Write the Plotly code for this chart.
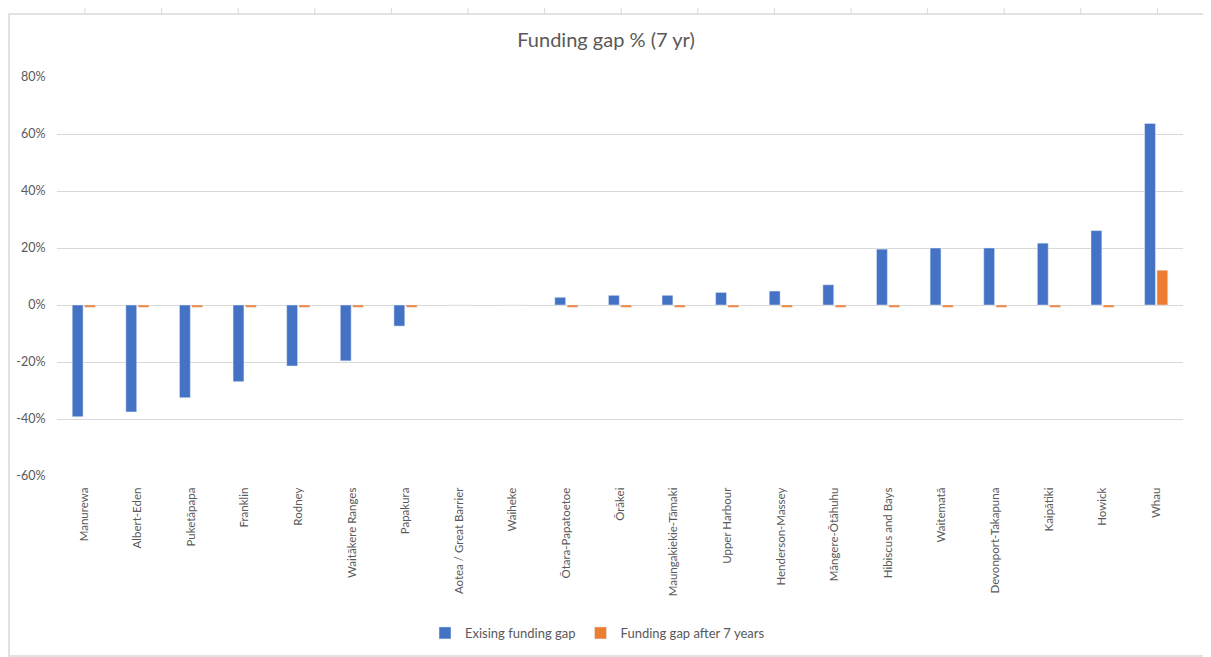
import plotly.graph_objects as go

categories = ["Manurewa", "Albert-Eden", "Puketāpapa", "Franklin", "Rodney",
              "Waitākere Ranges", "Papakura", "Aotea / Great Barrier", "Waiheke",
              "Ōtara-Papatoetoe", "Ōrākei", "Maungakiekie-Tāmaki", "Upper Harbour",
              "Henderson-Massey", "Māngere-Ōtāhuhu", "Hibiscus and Bays", "Waitematā",
              "Devonport-Takapuna", "Kaipātiki", "Howick", "Whau"]
existing_gap = [-39.2, -37.5, -32.5, -26.9, -21.4, -19.6, -7.4, 0, 0,
                2.7, 3.4, 3.4, 4.4, 4.9, 7.1, 19.6, 20.0, 20.0, 21.7, 26.1, 63.7]
gap_after_7 = [-0.8, -0.8, -0.8, -0.8, -0.8, -0.8, -0.8, 0, 0,
               -0.8, -0.8, -0.8, -0.8, -0.8, -0.8, -0.8, -0.8, -0.8, -0.8, -0.8, 12.2]
series_names = ["Exising funding gap", "Funding gap after 7 years"]
y_ticks = [-60, -40, -20, 0, 20, 40, 60, 80]
y_tick_labels = [f"{v}%" for v in y_ticks]

# page is offset by the default 8px body margin
OFF = 8
PW, PH = 1211, 657
FW, FH = PW - OFF, PH - OFF
L, R, T, B = 57, 1183, 77, 476          # plot area in page pixels
W, H = R - L, B - T
GRID = "#d9d9d9"
TXT = "#595959"
FONT = "Lato, Calibri, Carlito, sans-serif"


def px(x):
    return (x - L) / W


def py(y):
    return (B - y) / H


fig = go.Figure()
fig.add_trace(go.Bar(x=categories, y=existing_gap, name=series_names[0],
                     marker_color="#4472C4"))
fig.add_trace(go.Bar(x=categories, y=gap_after_7, name=series_names[1],
                     marker_color="#ED7D31"))

shapes = []
line = dict(color=GRID, width=1)
# chart frame
shapes.append(dict(type="rect", xref="paper", yref="paper", x0=px(9), x1=px(1204),
                   y0=py(656), y1=py(14), line=dict(color=GRID, width=1.5), layer="below"))
# spreadsheet column marks on top
for k in range(15):
    xx = 85 + 76.6 * k
    shapes.append(dict(type="line", xref="paper", yref="paper", x0=px(xx), x1=px(xx),
                       y0=py(4), y1=py(14), line=line))
# spreadsheet row marks on sides
for k in range(31):
    yy = 26 + 20.8 * k
    if yy < 652:
        shapes.append(dict(type="line", xref="paper", yref="paper", x0=px(5), x1=px(9),
                           y0=py(yy), y1=py(yy), line=line))
    yy2 = 15 + 20.8 * k
    if 14 < yy2 < 652:
        shapes.append(dict(type="line", xref="paper", yref="paper", x0=px(1204), x1=px(1211),
                           y0=py(yy2), y1=py(yy2), line=line))

fig.update_layout(
    width=FW, height=FH,
    margin=dict(l=L - OFF, r=FW - (R - OFF), t=T - OFF, b=FH - (B - OFF), autoexpand=False),
    paper_bgcolor="white", plot_bgcolor="white",
    font=dict(family=FONT, color=TXT, size=11),
    title=dict(text="Funding gap % (7 yr)", x=px(606), xanchor="center",
               xref="paper", y=1 - (40 - OFF) / FH, yanchor="middle",
               font=dict(size=20, color=TXT, family=FONT)),
    barmode="group", bargap=0.54, bargroupgap=0.12,
    showlegend=True,
    legend=dict(orientation="h", x=px(425), xanchor="left", y=py(633),
                yanchor="middle", font=dict(size=13, color=TXT), itemwidth=30,
                bgcolor="rgba(0,0,0,0)"),
    shapes=shapes,
)
fig.update_xaxes(showgrid=False, showline=False, zeroline=False, tickangle=-90,
                 ticks="outside", ticklen=6, tickcolor="rgba(0,0,0,0)",
                 tickfont=dict(size=11.5, color=TXT))
fig.update_yaxes(range=[-60, 80], tickvals=y_ticks, ticktext=y_tick_labels,
                 showgrid=True, gridcolor=GRID, gridwidth=1,
                 zeroline=True, zerolinecolor=GRID, zerolinewidth=1,
                 showline=False, ticks="outside", ticklen=8,
                 tickcolor="rgba(0,0,0,0)", tickfont=dict(size=12.5, color=TXT))

fig.write_html("out.html")
